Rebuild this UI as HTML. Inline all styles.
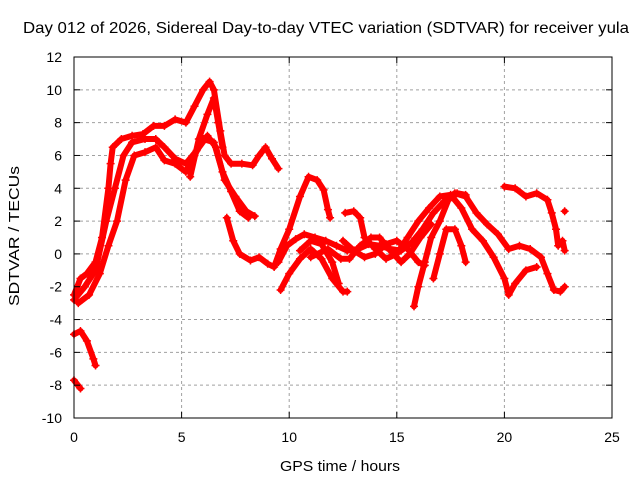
<!DOCTYPE html>
<html><head><meta charset="utf-8"><style>
body{margin:0;background:#fff}
svg{display:block;font-family:"Liberation Sans",sans-serif}
</style></head><body>
<svg id="chart" width="640" height="480" viewBox="0 0 640 480">
<rect width="640" height="480" fill="#fff"/>
<text x="326" y="33" font-size="16" text-anchor="middle" textLength="606" lengthAdjust="spacingAndGlyphs">Day 012 of 2026, Sidereal Day-to-day VTEC variation (SDTVAR) for receiver yula</text>
<text transform="translate(19,236) rotate(-90)" font-size="15" text-anchor="middle" textLength="140" lengthAdjust="spacingAndGlyphs">SDTVAR / TECUs</text>
<text x="340" y="471" font-size="15" text-anchor="middle" textLength="120" lengthAdjust="spacingAndGlyphs">GPS time / hours</text>
<g id="grid"></g><g id="marks"></g><g id="axes"></g>
</svg>
<script>
const xTicks=[0,5,10,15,20,25];
const yTicks=[-10,-8,-6,-4,-2,0,2,4,6,8,10,12];
const trackA=[[0,-2.5],[0.3,-1.5],[0.6,-1.2],[1.0,-0.5],[1.3,1],[1.6,4],[1.7,5.5],[1.8,6.5],[2.2,7],[2.7,7.2],[3.2,7.3],[3.7,7.8],[4.2,7.8],[4.7,8.2],[5.2,8],[5.6,9],[6.0,10],[6.3,10.5],[6.5,10],[6.8,7.5],[7.0,6],[7.3,5.5],[7.8,5.5],[8.3,5.4],[8.6,6],[8.9,6.5],[9.2,5.8],[9.5,5.2]];
const trackB=[[0,-2.8],[0.5,-2],[1.0,-1],[1.5,2],[1.9,4],[2.3,6],[2.7,6.8],[3.3,7],[3.8,7],[4.2,6.5],[4.7,5.8],[5.2,5.5],[5.7,6.3],[6.2,7.2],[6.6,6.5],[7.0,4.5],[7.5,3.5],[8.0,2.6],[8.4,2.3]];
const trackC=[[0.2,-3],[0.7,-2.5],[1.2,-1.2],[1.6,0.5],[2.0,2],[2.4,4.5],[2.8,6],[3.3,6.2],[3.8,6.5],[4.2,5.7],[4.7,5.5],[5.2,5],[5.6,6],[6.0,7],[6.5,6.8],[6.9,5],[7.3,3.8],[7.7,2.6],[8.1,2.2]];
const trackD=[[5.4,4.7],[5.8,7],[6.2,8.5],[6.5,9.5],[6.7,8],[6.9,6.5]];
const trackL1=[[0,-4.9],[0.3,-4.7],[0.6,-5.3],[0.9,-6.4],[1.0,-6.8]];
const trackL2=[[0,-7.7],[0.3,-8.2]];
const trackE=[[7.1,2.2],[7.4,0.8],[7.7,0],[8.2,-0.4],[8.6,-0.2],[9.0,-0.6],[9.3,-0.8],[9.6,0.3],[10.0,1.5],[10.5,3.5],[10.9,4.7],[11.3,4.5],[11.6,3.9],[11.8,2.7],[11.9,2.2]];
const trackF=[[9.5,-0.5],[9.9,0.5],[10.3,0.9],[10.7,1.2],[11.2,1.0],[11.7,0.8],[12.2,0.5],[12.7,0.2],[13.2,0.3],[13.7,0.6],[14.2,0.5],[14.7,0.3],[15.2,0.2],[15.7,0.7],[16.2,1.5],[16.7,2.5],[17.2,3.2],[17.7,3.7],[18.2,3.5],[18.7,2.5],[19.2,1.8],[19.7,1.2],[20.2,0.3],[20.7,0.5],[21.2,0.3],[21.7,-0.2],[22.0,-1.2],[22.3,-2.2],[22.6,-2.3],[22.8,-2]];
const trackG=[[9.6,-2.2],[10.0,-1.2],[10.5,-0.3],[11.0,0.3],[11.5,-0.3],[12.0,-1.5],[12.5,-2.3],[12.7,-2.3]];
const trackH=[[10.5,0.2],[11.0,0.8],[11.5,0.6],[12.0,-0.5],[12.3,-1.8]];
const trackI=[[12.6,2.5],[13.0,2.6],[13.3,2.2],[13.5,1],[14.0,0.3],[14.5,-0.3],[15.0,0],[15.5,1],[16.0,2],[16.5,2.8],[17.0,3.5],[17.5,3.6],[18.0,2.8],[18.5,1.5],[19.0,0.8],[19.5,-0.2],[20.0,-1.5],[20.2,-2.5],[20.5,-1.8],[21.0,-1],[21.5,-0.8]];
const trackJ=[[15.8,-3.2],[16.0,-2],[16.3,-0.5],[16.6,1],[17.0,2],[17.4,3.3],[17.8,3.7],[18.2,3.6]];
const trackJ2=[[16.7,-1.5],[17.0,0],[17.3,1.5],[17.7,1.5],[18.0,0.5],[18.2,-0.5]];
const trackK=[[20.0,4.1],[20.5,4.0],[21.0,3.5],[21.5,3.7],[22.0,3.3],[22.2,2.5],[22.4,1.5],[22.5,0.5],[22.7,0.8],[22.8,0.2]];
const trackM=[[12.5,0.8],[13.0,0.2],[13.5,-0.2],[14.0,0.0],[14.5,0.6],[15.0,0.8],[15.5,0.3],[16.0,-0.5],[16.3,-0.7]];
const trackN=[[11.0,-0.2],[11.8,0.3],[12.4,-0.3],[12.8,-0.3],[13.3,0.5],[13.8,1.0],[14.2,1.0],[14.7,0.2],[15.2,-0.5],[15.6,0.0],[16.1,1.0],[16.6,1.8]];
const trackP=[[22.8,2.6]];
const tracks=[trackA,trackB,trackC,trackD,trackL1,trackL2,trackE,trackF,trackG,trackH,trackI,trackJ,trackJ2,trackK,trackM,trackN,trackP];

const X0=74,X1=612,Y0=418,Y1=57;
const xs=t=>X0+(t-0)/(25-0)*(X1-X0);
const ys=v=>Y0-(v+10)/(22)*(Y0-Y1);
const NS='http://www.w3.org/2000/svg';
function mk(tag,attrs,parent){const e=document.createElementNS(NS,tag);for(const k in attrs)e.setAttribute(k,attrs[k]);parent.appendChild(e);return e;}
const grid=document.getElementById('grid'),marks=document.getElementById('marks'),axes=document.getElementById('axes');
xTicks.forEach(t=>{
 const x=xs(t);
 if(t>0&&t<25){const g=mk('line',{x1:x,x2:x,y1:Y1,y2:Y0,stroke:'#a0a0a0','stroke-dasharray':'3,3'},grid);
 
 }
 const l=mk('text',{x:x,y:442,'font-size':14,'text-anchor':'middle'},axes);l.textContent=t;
 
 
 mk('line',{x1:x,x2:x,y1:Y0,y2:Y0-6,stroke:'#000'},axes);
 mk('line',{x1:x,x2:x,y1:Y1,y2:Y1+6,stroke:'#000'},axes);
});
yTicks.forEach(v=>{
 const y=ys(v);
 if(v>-10&&v<12){const g=mk('line',{x1:X0,x2:X1,y1:y,y2:y,stroke:'#a0a0a0','stroke-dasharray':'3,3'},grid);
 
 }
 const l=mk('text',{x:62,y:y+5,'font-size':14,'text-anchor':'end'},axes);l.textContent=v;
 
 
 mk('line',{x1:X0,x2:X0+6,y1:y,y2:y,stroke:'#000'},axes);
 mk('line',{x1:X1,x2:X1-6,y1:y,y2:y,stroke:'#000'},axes);
});
const fr=mk('rect',{x:X0,y:Y1,width:X1-X0,height:Y0-Y1,fill:'none',stroke:'#000'},axes);


tracks.forEach((tr,i)=>{
 const d=tr.map((p,j)=>(j?'L':'M')+xs(p[0]).toFixed(1)+','+ys(p[1]).toFixed(1)).join(' ')+(tr.length===1?' l0.1,0':'');
 const p=mk('path',{d:d,fill:'none',stroke:'#ff0000','stroke-width':6,'stroke-linejoin':'round','stroke-linecap':'round'},marks);
 
 
 tr.forEach(pt=>{
  const x=xs(pt[0]),y=ys(pt[1]);
  const m=mk('path',{d:`M${x-4},${y}h8M${x},${y-4}v8`,stroke:'#ff0000','stroke-width':1.5},marks);
  
  
 });
});
</script>
</body></html>
